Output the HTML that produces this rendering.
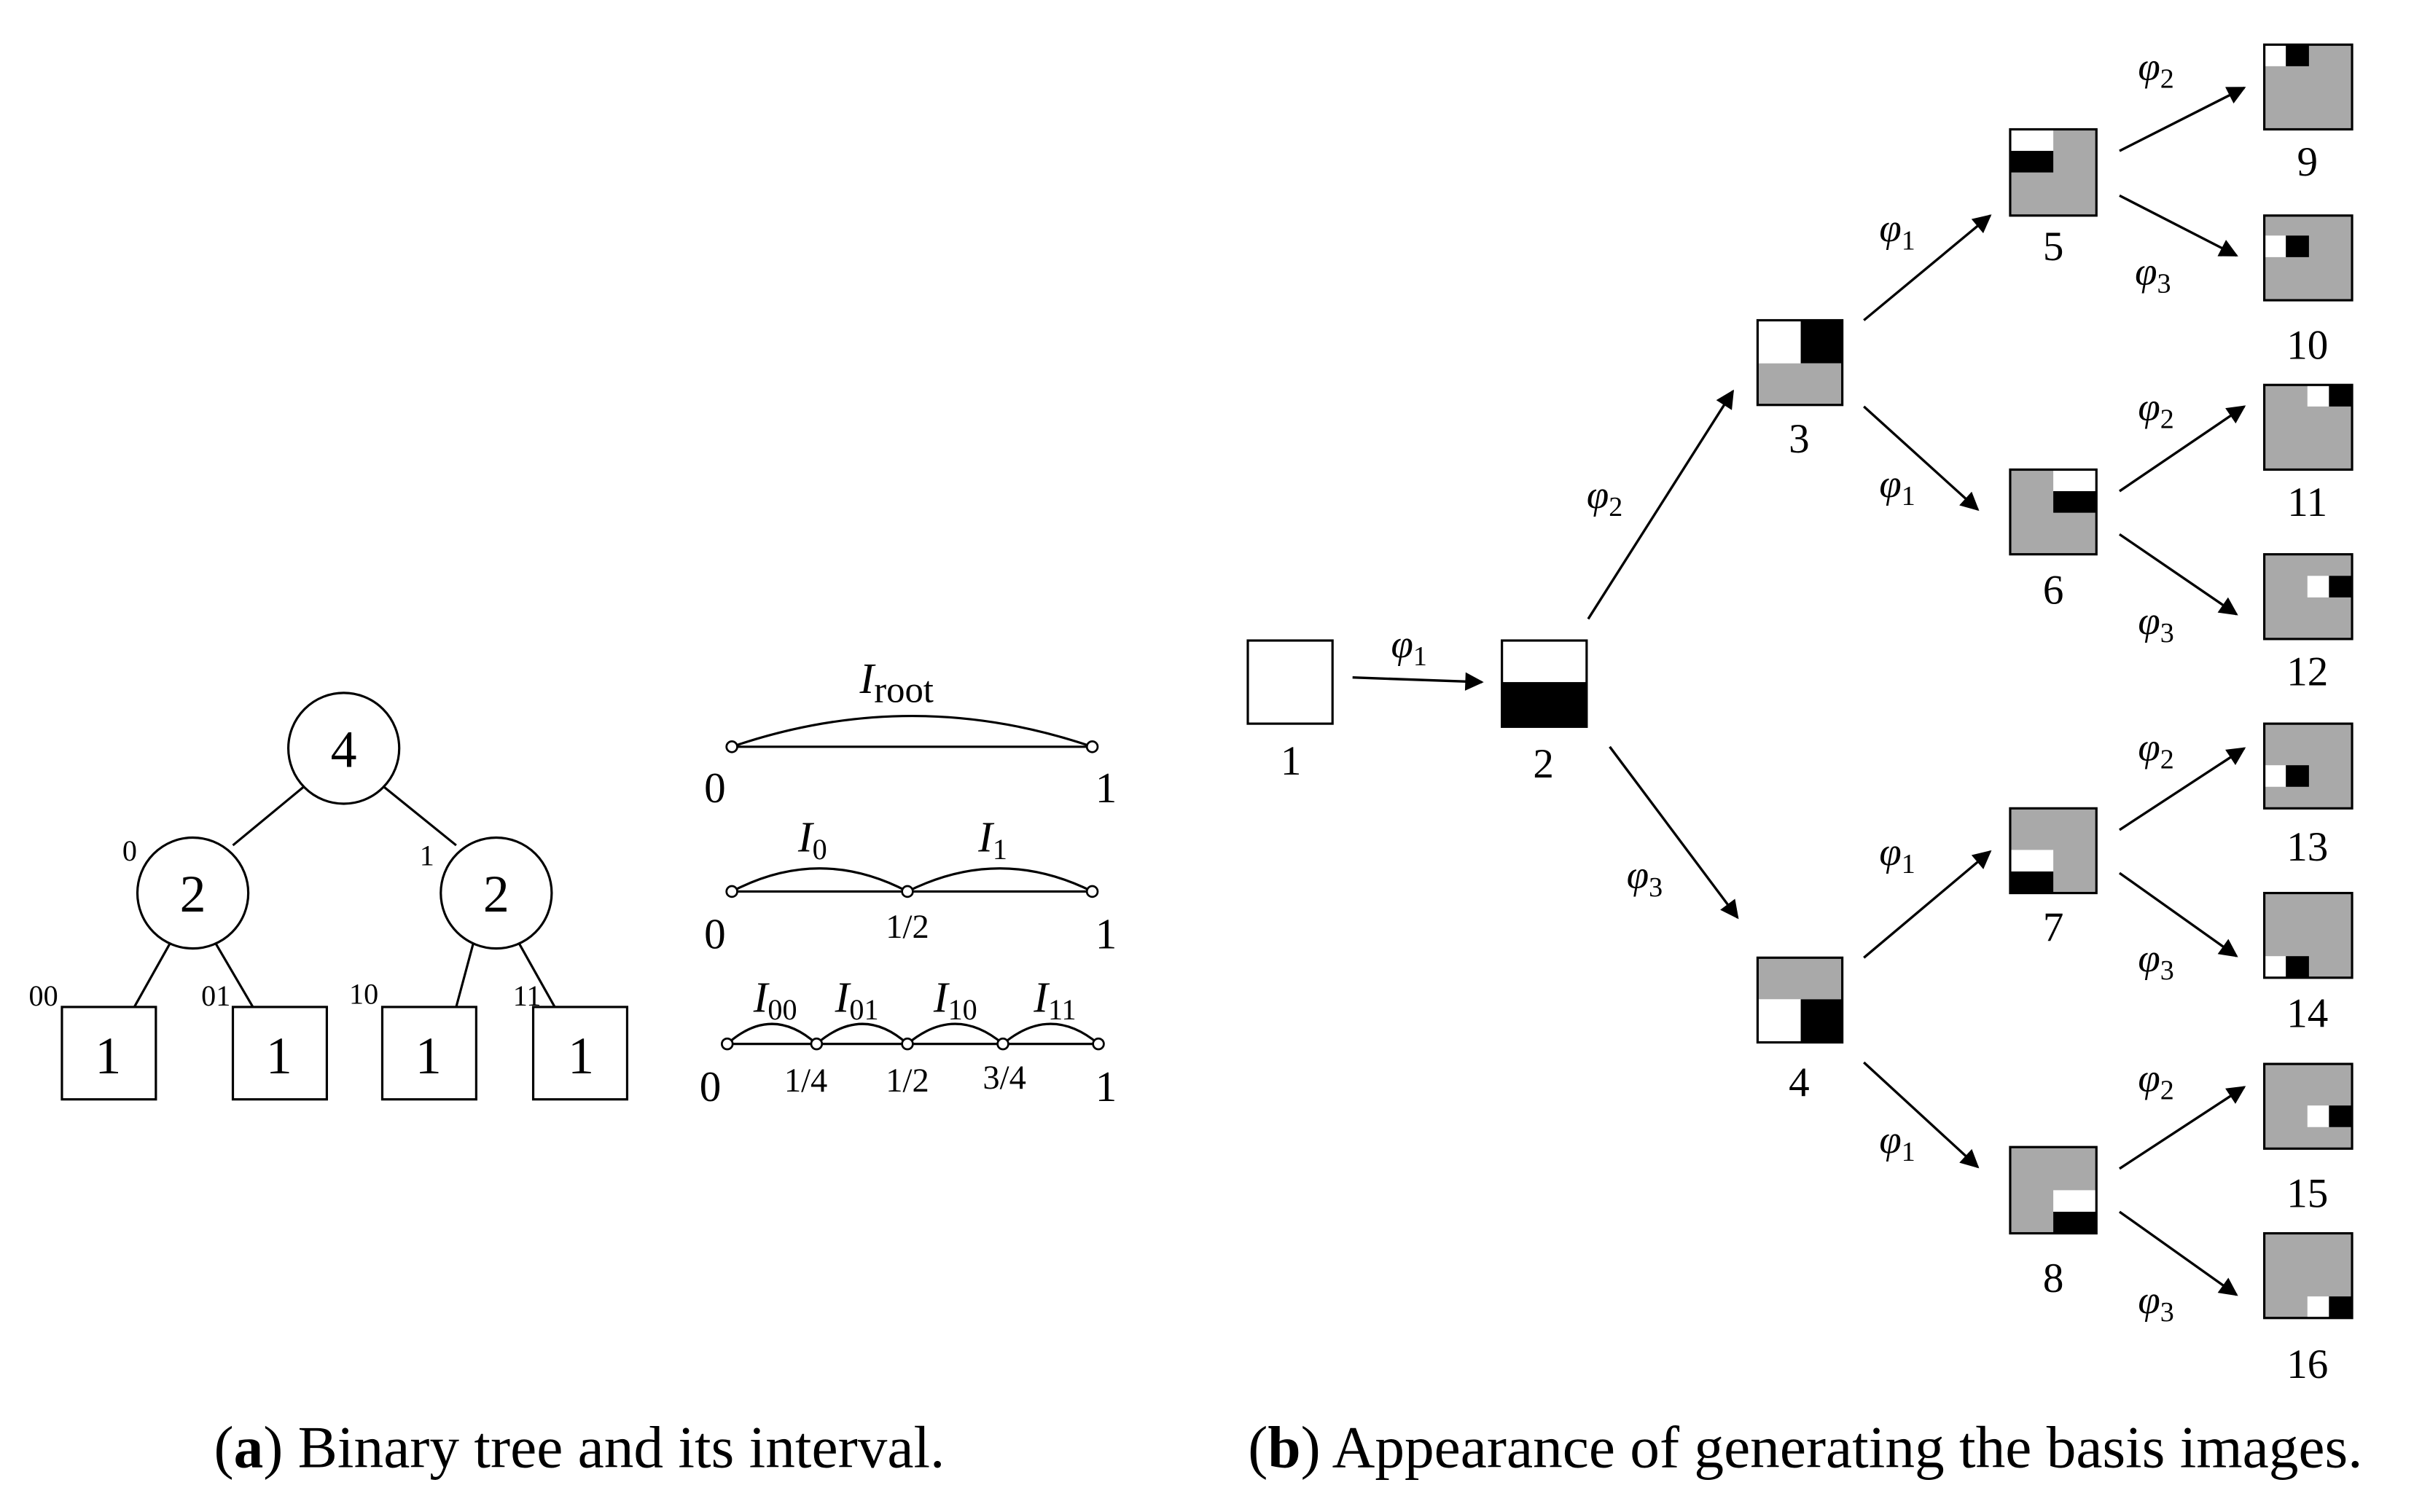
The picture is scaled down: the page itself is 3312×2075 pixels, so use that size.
<!DOCTYPE html>
<html><head><meta charset="utf-8"><style>
html,body{margin:0;padding:0;background:#fff;}
svg{display:block;}
text{font-family:"Liberation Serif",serif;fill:#000;}
.it{font-style:italic;}
</style></head><body>
<svg width="3312" height="2075" viewBox="0 0 1567 982" xmlns="http://www.w3.org/2000/svg">
<defs>
<marker id="a2" viewBox="0 0 10 10" refX="9" refY="5" markerWidth="16" markerHeight="12" orient="auto" markerUnits="userSpaceOnUse">
<path d="M0,0 L10,5 L0,10 Z" fill="#000"/>
</marker>
</defs>
<g stroke="#000" stroke-width="1.5" fill="none">
<circle cx="223" cy="486" r="36" fill="#fff"/>
<circle cx="125" cy="580" r="36" fill="#fff"/>
<circle cx="322" cy="580" r="36" fill="#fff"/>
<line x1="197" y1="511" x2="151" y2="549"/>
<line x1="249" y1="511" x2="296" y2="549"/>
<line x1="110" y1="613" x2="87" y2="654"/>
<line x1="140" y1="613" x2="164" y2="654"/>
<line x1="307" y1="613" x2="296" y2="654"/>
<line x1="337" y1="613" x2="360" y2="654"/>
<rect x="40" y="654" width="61" height="60" fill="#fff"/>
<rect x="151" y="654" width="61" height="60" fill="#fff"/>
<rect x="248" y="654" width="61" height="60" fill="#fff"/>
<rect x="346" y="654" width="61" height="60" fill="#fff"/>
<line x1="475" y1="485" x2="709" y2="485"/>
<path d="M475,485 Q592,445 709,485"/>
<line x1="475" y1="579" x2="709" y2="579"/>
<path d="M475,579 Q532,549 589,579 Q649,549 709,579"/>
<line x1="472" y1="678" x2="713" y2="678"/>
<path d="M472,678 Q501,652 530,678 Q560,652 589,678 Q620,652 651,678 Q682,652 713,678"/>
</g>
<g stroke="#000" stroke-width="1.3" fill="#fff">
<circle cx="475" cy="485" r="3.5"/><circle cx="709" cy="485" r="3.5"/>
<circle cx="475" cy="579" r="3.5"/><circle cx="589" cy="579" r="3.5"/><circle cx="709" cy="579" r="3.5"/>
<circle cx="472" cy="678" r="3.5"/><circle cx="530" cy="678" r="3.5"/><circle cx="589" cy="678" r="3.5"/><circle cx="651" cy="678" r="3.5"/><circle cx="713" cy="678" r="3.5"/>
</g>
<g font-size="34" text-anchor="middle">
<text x="223" y="498">4</text><text x="125" y="592">2</text><text x="322" y="592">2</text>
<text x="70" y="697">1</text><text x="181" y="697">1</text><text x="278" y="697">1</text><text x="377" y="697">1</text>
</g>
<g font-size="19" text-anchor="middle">
<text x="84" y="559">0</text><text x="277" y="562">1</text>
<text x="28" y="653">00</text><text x="140" y="653">01</text><text x="236" y="652">10</text><text x="342" y="653">11</text>
</g>
<g font-size="28" text-anchor="middle">
<text x="464" y="521">0</text><text x="718" y="521">1</text>
<text x="464" y="616">0</text><text x="718" y="616">1</text>
<text x="461" y="715">0</text><text x="718" y="715">1</text>
</g>
<g font-size="22" text-anchor="middle">
<text x="589" y="609">1/2</text>
<text x="523" y="709">1/4</text><text x="589" y="709">1/2</text><text x="652" y="707">3/4</text>
</g>
<g font-size="28">
<text x="558" y="450" class="it">I<tspan font-style="normal" font-size="24" dy="6">root</tspan></text>
<text x="518" y="553" class="it">I<tspan font-style="normal" font-size="19" dy="5">0</tspan></text>
<text x="635" y="553" class="it">I<tspan font-style="normal" font-size="19" dy="5">1</tspan></text>
<text x="489" y="657" class="it">I<tspan font-style="normal" font-size="19" dy="5">00</tspan></text>
<text x="542" y="657" class="it">I<tspan font-style="normal" font-size="19" dy="5">01</tspan></text>
<text x="606" y="657" class="it">I<tspan font-style="normal" font-size="19" dy="5">10</tspan></text>
<text x="671" y="657" class="it">I<tspan font-style="normal" font-size="19" dy="5">11</tspan></text>
</g>

<g stroke="none">
<rect x="810" y="416" width="55" height="54" fill="#fff"/>
<rect x="975" y="416" width="55" height="27" fill="#fff"/>
<rect x="975" y="443" width="55" height="29" fill="#000"/>
<rect x="1141" y="208" width="28" height="28" fill="#fff"/>
<rect x="1169" y="208" width="27" height="28" fill="#000"/>
<rect x="1141" y="236" width="55" height="27" fill="#a9a9a9"/>
<rect x="1141" y="622" width="55" height="27" fill="#a9a9a9"/>
<rect x="1141" y="649" width="28" height="28" fill="#fff"/>
<rect x="1169" y="649" width="27" height="28" fill="#000"/>
<rect x="1305" y="84" width="56" height="56" fill="#a9a9a9"/>
<rect x="1305" y="84" width="28" height="14" fill="#fff"/><rect x="1305" y="98" width="28" height="14" fill="#000"/>
<rect x="1305" y="305" width="56" height="55" fill="#a9a9a9"/>
<rect x="1333" y="305" width="28" height="14" fill="#fff"/><rect x="1333" y="319" width="28" height="14" fill="#000"/>
<rect x="1305" y="525" width="56" height="55" fill="#a9a9a9"/>
<rect x="1305" y="552" width="28" height="14" fill="#fff"/><rect x="1305" y="566" width="28" height="14" fill="#000"/>
<rect x="1305" y="745" width="56" height="56" fill="#a9a9a9"/>
<rect x="1333" y="773" width="28" height="14" fill="#fff"/><rect x="1333" y="787" width="28" height="14" fill="#000"/>
<rect x="1470" y="29" width="57" height="55" fill="#a9a9a9"/>
<rect x="1470" y="29" width="14" height="14" fill="#fff"/><rect x="1484" y="29" width="15" height="14" fill="#000"/>
<rect x="1470" y="140" width="57" height="55" fill="#a9a9a9"/>
<rect x="1470" y="153" width="14" height="14" fill="#fff"/><rect x="1484" y="153" width="15" height="14" fill="#000"/>
<rect x="1470" y="250" width="57" height="55" fill="#a9a9a9"/>
<rect x="1498" y="250" width="14" height="14" fill="#fff"/><rect x="1512" y="250" width="15" height="14" fill="#000"/>
<rect x="1470" y="360" width="57" height="55" fill="#a9a9a9"/>
<rect x="1498" y="374" width="14" height="14" fill="#fff"/><rect x="1512" y="374" width="15" height="14" fill="#000"/>
<rect x="1470" y="470" width="57" height="55" fill="#a9a9a9"/>
<rect x="1470" y="497" width="14" height="14" fill="#fff"/><rect x="1484" y="497" width="15" height="14" fill="#000"/>
<rect x="1470" y="580" width="57" height="55" fill="#a9a9a9"/>
<rect x="1470" y="621" width="14" height="14" fill="#fff"/><rect x="1484" y="621" width="15" height="14" fill="#000"/>
<rect x="1470" y="691" width="57" height="55" fill="#a9a9a9"/>
<rect x="1498" y="718" width="14" height="14" fill="#fff"/><rect x="1512" y="718" width="15" height="14" fill="#000"/>
<rect x="1470" y="801" width="57" height="55" fill="#a9a9a9"/>
<rect x="1498" y="842" width="14" height="14" fill="#fff"/><rect x="1512" y="842" width="15" height="14" fill="#000"/>
</g>
<g stroke="#000" stroke-width="1.5" fill="none">
<rect x="810" y="416" width="55" height="54"/>
<rect x="975" y="416" width="55" height="56"/>
<rect x="1141" y="208" width="55" height="55"/>
<rect x="1141" y="622" width="55" height="55"/>
<rect x="1305" y="84" width="56" height="56"/>
<rect x="1305" y="305" width="56" height="55"/>
<rect x="1305" y="525" width="56" height="55"/>
<rect x="1305" y="745" width="56" height="56"/>
<rect x="1470" y="29" width="57" height="55"/>
<rect x="1470" y="140" width="57" height="55"/>
<rect x="1470" y="250" width="57" height="55"/>
<rect x="1470" y="360" width="57" height="55"/>
<rect x="1470" y="470" width="57" height="55"/>
<rect x="1470" y="580" width="57" height="55"/>
<rect x="1470" y="691" width="57" height="55"/>
<rect x="1470" y="801" width="57" height="55"/>
</g>
<g stroke="#000" stroke-width="1.6" fill="none" marker-end="url(#a2)">
<line x1="878" y1="440" x2="962" y2="443"/>
<line x1="1031" y1="402" x2="1125" y2="254"/>
<line x1="1045" y1="485" x2="1128" y2="596"/>
<line x1="1210" y1="208" x2="1292" y2="140"/>
<line x1="1210" y1="264" x2="1284" y2="331"/>
<line x1="1210" y1="622" x2="1292" y2="553"/>
<line x1="1210" y1="690" x2="1284" y2="758"/>
<line x1="1376" y1="98" x2="1457" y2="57"/>
<line x1="1376" y1="127" x2="1452" y2="166"/>
<line x1="1376" y1="319" x2="1457" y2="264"/>
<line x1="1376" y1="347" x2="1452" y2="399"/>
<line x1="1376" y1="539" x2="1457" y2="486"/>
<line x1="1376" y1="567" x2="1452" y2="621"/>
<line x1="1376" y1="759" x2="1457" y2="706"/>
<line x1="1376" y1="787" x2="1452" y2="841"/>
</g>
<g font-size="27" text-anchor="middle">
<text x="838" y="503">1</text><text x="1002" y="505">2</text>
<text x="1168" y="294">3</text><text x="1168" y="712">4</text>
<text x="1333" y="169">5</text><text x="1333" y="392">6</text><text x="1333" y="611">7</text><text x="1333" y="839">8</text>
<text x="1498" y="114">9</text><text x="1498" y="233">10</text><text x="1498" y="335">11</text><text x="1498" y="445">12</text>
<text x="1498" y="559">13</text><text x="1498" y="667">14</text><text x="1498" y="784">15</text><text x="1498" y="895">16</text>
</g>
<g font-size="26">
<text x="903" y="427" class="it">φ<tspan font-style="normal" font-size="18" dy="5">1</tspan></text>
<text x="1030" y="330" class="it">φ<tspan font-style="normal" font-size="18" dy="5">2</tspan></text>
<text x="1056" y="577" class="it">φ<tspan font-style="normal" font-size="18" dy="5">3</tspan></text>
<text x="1220" y="157" class="it">φ<tspan font-style="normal" font-size="18" dy="5">1</tspan></text>
<text x="1220" y="323" class="it">φ<tspan font-style="normal" font-size="18" dy="5">1</tspan></text>
<text x="1220" y="562" class="it">φ<tspan font-style="normal" font-size="18" dy="5">1</tspan></text>
<text x="1220" y="749" class="it">φ<tspan font-style="normal" font-size="18" dy="5">1</tspan></text>
<text x="1388" y="52" class="it">φ<tspan font-style="normal" font-size="18" dy="5">2</tspan></text>
<text x="1386" y="185" class="it">φ<tspan font-style="normal" font-size="18" dy="5">3</tspan></text>
<text x="1388" y="273" class="it">φ<tspan font-style="normal" font-size="18" dy="5">2</tspan></text>
<text x="1388" y="412" class="it">φ<tspan font-style="normal" font-size="18" dy="5">3</tspan></text>
<text x="1388" y="494" class="it">φ<tspan font-style="normal" font-size="18" dy="5">2</tspan></text>
<text x="1388" y="631" class="it">φ<tspan font-style="normal" font-size="18" dy="5">3</tspan></text>
<text x="1388" y="709" class="it">φ<tspan font-style="normal" font-size="18" dy="5">2</tspan></text>
<text x="1388" y="853" class="it">φ<tspan font-style="normal" font-size="18" dy="5">3</tspan></text>
</g>
<g font-size="38.5" text-anchor="middle">
<text x="376" y="953">(<tspan font-weight="bold">a</tspan>) Binary tree and its interval.</text>
<text x="1172" y="953">(<tspan font-weight="bold">b</tspan>) Appearance of generating the basis images.</text>
</g>
</svg>
</body></html>
